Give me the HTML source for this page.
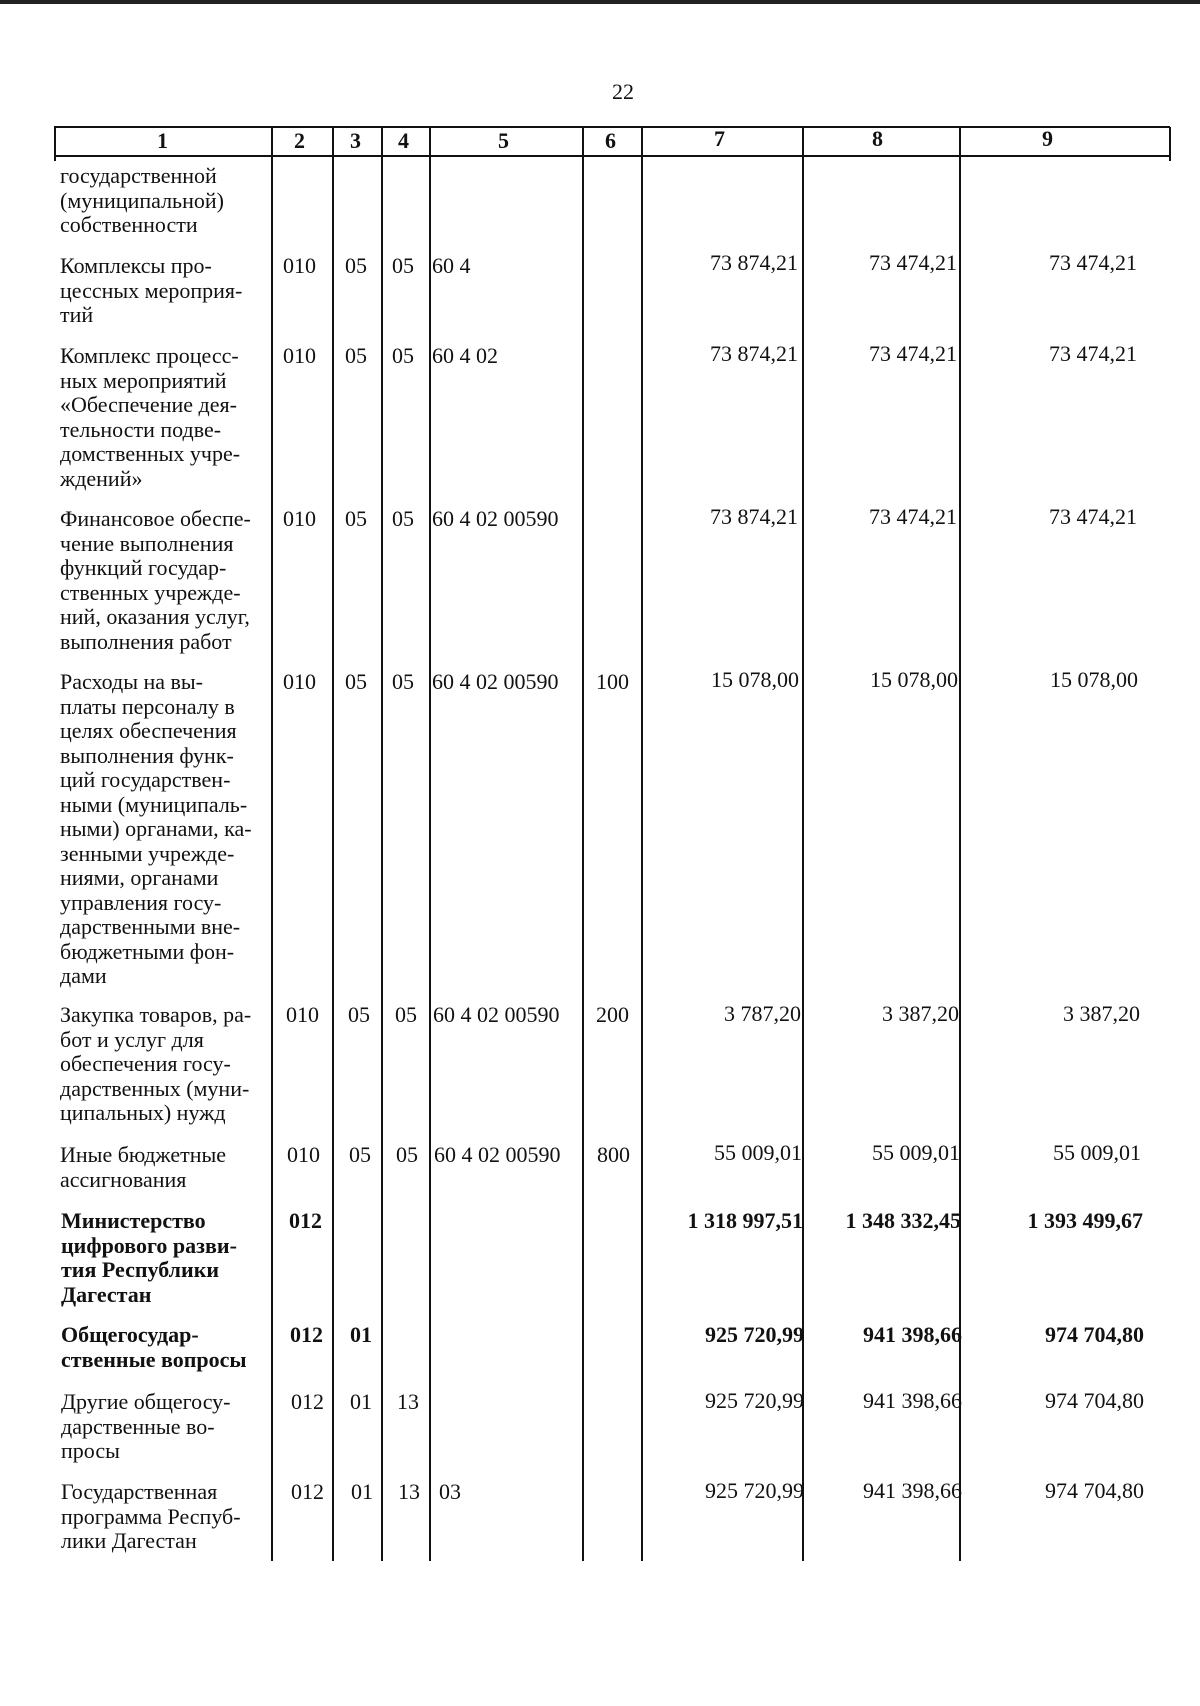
<!DOCTYPE html>
<html><head><meta charset="utf-8">
<style>
body{margin:0;background:#fff;}
#p{position:relative;width:1200px;height:1706px;overflow:hidden;background:#fff;font-family:"Liberation Serif",serif;font-size:22px;line-height:24.5px;color:#111;}
.t{position:absolute;white-space:nowrap;}
.r{position:absolute;text-align:right;white-space:nowrap;}
.v{position:absolute;width:1.6px;background:#111;top:127px;height:1434px;}
.h{position:absolute;height:1.6px;background:#111;left:54px;width:1116px;}
b{font-weight:bold;}
</style></head><body><div id="p">
<div style="position:absolute;left:0;top:0;width:1200px;height:4px;background:#222"></div>
<div class="t" style="left:612px;top:80px">22</div>
<div class="h" style="top:126px"></div>
<div class="h" style="top:155px"></div>
<div class="v" style="left:54px;height:34px"></div>
<div class="v" style="left:271px"></div>
<div class="v" style="left:332px"></div>
<div class="v" style="left:381px"></div>
<div class="v" style="left:429px"></div>
<div class="v" style="left:582px"></div>
<div class="v" style="left:641px"></div>
<div class="v" style="left:802px"></div>
<div class="v" style="left:959px"></div>
<div class="v" style="left:1169px;height:34px"></div>
<div class="t" style="left:157px;top:129px"><b>1</b></div>
<div class="t" style="left:294px;top:129px"><b>2</b></div>
<div class="t" style="left:350px;top:129px"><b>3</b></div>
<div class="t" style="left:398px;top:129px"><b>4</b></div>
<div class="t" style="left:498px;top:129px"><b>5</b></div>
<div class="t" style="left:605px;top:129px"><b>6</b></div>
<div class="t" style="left:714px;top:127px"><b>7</b></div>
<div class="t" style="left:872px;top:127px"><b>8</b></div>
<div class="t" style="left:1042px;top:127px"><b>9</b></div>

<div class="t" style="left:60px;top:164px">государственной<br>(муниципальной)<br>собственности</div>

<div class="t" style="left:60px;top:254px">Комплексы про-<br>цессных мероприя-<br>тий</div>
<div class="t" style="left:283px;top:254px">010</div><div class="t" style="left:345px;top:254px">05</div><div class="t" style="left:392px;top:254px">05</div><div class="t" style="left:432px;top:254px">60 4</div>
<div class="r" style="right:402px;top:251px">73 874,21</div><div class="r" style="right:243px;top:251px">73 474,21</div><div class="r" style="right:63px;top:251px">73 474,21</div>

<div class="t" style="left:60px;top:344px">Комплекс процесс-<br>ных мероприятий<br>«Обеспечение дея-<br>тельности подве-<br>домственных учре-<br>ждений»</div>
<div class="t" style="left:283px;top:344px">010</div><div class="t" style="left:345px;top:344px">05</div><div class="t" style="left:392px;top:344px">05</div><div class="t" style="left:432px;top:344px">60 4 02</div>
<div class="r" style="right:402px;top:342px">73 874,21</div><div class="r" style="right:243px;top:342px">73 474,21</div><div class="r" style="right:63px;top:342px">73 474,21</div>

<div class="t" style="left:60px;top:507px">Финансовое обеспе-<br>чение выполнения<br>функций государ-<br>ственных учрежде-<br>ний, оказания услуг,<br>выполнения работ</div>
<div class="t" style="left:283px;top:507px">010</div><div class="t" style="left:345px;top:507px">05</div><div class="t" style="left:392px;top:507px">05</div><div class="t" style="left:432px;top:507px">60 4 02 00590</div>
<div class="r" style="right:402px;top:505px">73 874,21</div><div class="r" style="right:243px;top:505px">73 474,21</div><div class="r" style="right:63px;top:505px">73 474,21</div>

<div class="t" style="left:60px;top:670px">Расходы на вы-<br>платы персоналу в<br>целях обеспечения<br>выполнения функ-<br>ций государствен-<br>ными (муниципаль-<br>ными) органами, ка-<br>зенными учрежде-<br>ниями, органами<br>управления госу-<br>дарственными вне-<br>бюджетными фон-<br>дами</div>
<div class="t" style="left:283px;top:670px">010</div><div class="t" style="left:345px;top:670px">05</div><div class="t" style="left:392px;top:670px">05</div><div class="t" style="left:432px;top:670px">60 4 02 00590</div><div class="t" style="left:596px;top:670px">100</div>
<div class="r" style="right:401px;top:668px">15 078,00</div><div class="r" style="right:242px;top:668px">15 078,00</div><div class="r" style="right:62px;top:668px">15 078,00</div>

<div class="t" style="left:60px;top:1003px">Закупка товаров, ра-<br>бот и услуг для<br>обеспечения госу-<br>дарственных (муни-<br>ципальных) нужд</div>
<div class="t" style="left:286px;top:1003px">010</div><div class="t" style="left:348px;top:1003px">05</div><div class="t" style="left:395px;top:1003px">05</div><div class="t" style="left:433px;top:1003px">60 4 02 00590</div><div class="t" style="left:596px;top:1003px">200</div>
<div class="r" style="right:399px;top:1002px">3 787,20</div><div class="r" style="right:241px;top:1002px">3 387,20</div><div class="r" style="right:60px;top:1002px">3 387,20</div>

<div class="t" style="left:60px;top:1143px">Иные бюджетные<br>ассигнования</div>
<div class="t" style="left:287px;top:1143px">010</div><div class="t" style="left:349px;top:1143px">05</div><div class="t" style="left:396px;top:1143px">05</div><div class="t" style="left:434px;top:1143px">60 4 02 00590</div><div class="t" style="left:597px;top:1143px">800</div>
<div class="r" style="right:398px;top:1141px">55 009,01</div><div class="r" style="right:240px;top:1141px">55 009,01</div><div class="r" style="right:59px;top:1141px">55 009,01</div>

<div class="t" style="left:61px;top:1209px"><b>Министерство<br>цифрового разви-<br>тия Республики<br>Дагестан</b></div>
<div class="t" style="left:289px;top:1209px"><b>012</b></div>
<div class="r" style="right:397px;top:1209px"><b>1 318 997,51</b></div><div class="r" style="right:239px;top:1209px"><b>1 348 332,45</b></div><div class="r" style="right:57px;top:1209px"><b>1 393 499,67</b></div>

<div class="t" style="left:61px;top:1323px"><b>Общегосудар-<br>ственные вопросы</b></div>
<div class="t" style="left:290px;top:1323px"><b>012</b></div><div class="t" style="left:350px;top:1323px"><b>01</b></div>
<div class="r" style="right:396px;top:1323px"><b>925 720,99</b></div><div class="r" style="right:238px;top:1323px"><b>941 398,66</b></div><div class="r" style="right:56px;top:1323px"><b>974 704,80</b></div>

<div class="t" style="left:61px;top:1390px">Другие общегосу-<br>дарственные во-<br>просы</div>
<div class="t" style="left:291px;top:1390px">012</div><div class="t" style="left:350px;top:1390px">01</div><div class="t" style="left:397px;top:1390px">13</div>
<div class="r" style="right:396px;top:1389px">925 720,99</div><div class="r" style="right:238px;top:1389px">941 398,66</div><div class="r" style="right:56px;top:1389px">974 704,80</div>

<div class="t" style="left:61px;top:1480px">Государственная<br>программа Респуб-<br>лики Дагестан</div>
<div class="t" style="left:291px;top:1480px">012</div><div class="t" style="left:351px;top:1480px">01</div><div class="t" style="left:398px;top:1480px">13</div><div class="t" style="left:439px;top:1480px">03</div>
<div class="r" style="right:396px;top:1479px">925 720,99</div><div class="r" style="right:238px;top:1479px">941 398,66</div><div class="r" style="right:56px;top:1479px">974 704,80</div>
</div></body></html>
